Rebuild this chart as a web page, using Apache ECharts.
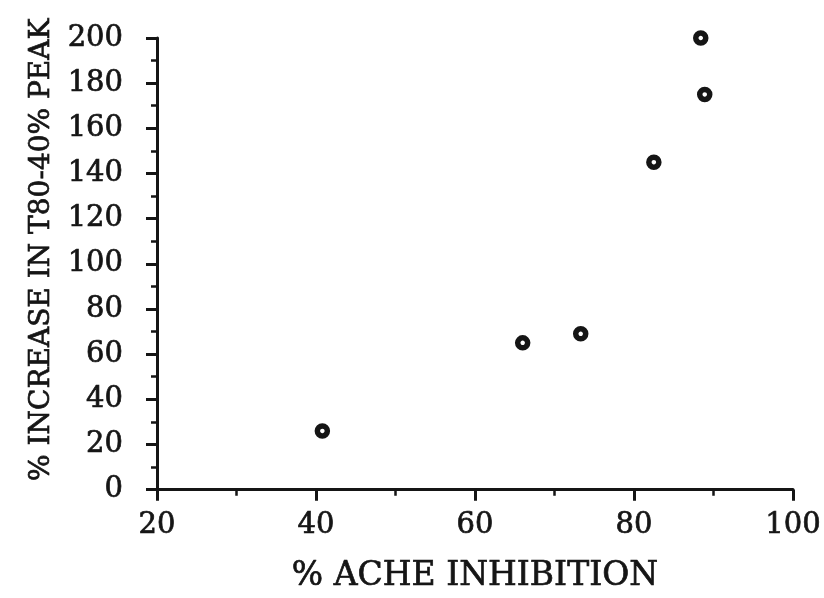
<!DOCTYPE html>
<html>
<head>
<meta charset="utf-8">
<script src="https://cdn.jsdelivr.net/npm/echarts@6/dist/echarts.min.js"></script>
<style>
  html, body { margin: 0; padding: 0; background: #fff; }
  #chart { width: 824px; height: 598px; }
</style>
</head>
<body>
<div id="chart"></div>
<script>
// Acetylcholinesterase inhibition vs. increase in T80-40% peak duration
const acheInhibition = [40.8, 66.0, 73.3, 82.5, 88.4, 88.9];
const peakIncrease = [26, 65, 69, 145, 200, 175];

const xTicks = [20, 40, 60, 80, 100];
const yTicks = [0, 20, 40, 60, 80, 100, 120, 140, 160, 180, 200];

const xTitle = '% ACHE INHIBITION';
const yTitle = '% INCREASE IN T80-40% PEAK';

const ink = '#151515';
const serif = '"DejaVu Serif", "Liberation Serif", serif';
// thin outline of the same colour gives the heavier printed look
const heavy = { color: ink, textBorderColor: ink, textBorderWidth: 0.7 };

const chart = echarts.init(document.getElementById('chart'), null, { renderer: 'canvas' });

chart.setOption({
  backgroundColor: '#ffffff',
  animation: false,
  grid: { left: 157, right: 30, top: 38, bottom: 108, containLabel: false },
  xAxis: {
    type: 'value',
    min: xTicks[0],
    max: xTicks[xTicks.length - 1],
    interval: xTicks[1] - xTicks[0],
    name: xTitle,
    nameLocation: 'middle',
    nameGap: 70,
    nameTextStyle: Object.assign({ fontFamily: serif, fontSize: 33 }, heavy),
    axisLine: { show: true, onZero: false, lineStyle: { color: ink, width: 3 } },
    axisTick: { show: true, inside: false, length: 11, lineStyle: { color: ink, width: 3 } },
    minorTick: { show: true, splitNumber: 2, length: 6, lineStyle: { color: ink, width: 2.5 } },
    axisLabel: Object.assign({ margin: 21, fontFamily: serif, fontSize: 29 }, heavy),
    splitLine: { show: false },
    minorSplitLine: { show: false }
  },
  yAxis: {
    type: 'value',
    min: yTicks[0],
    max: yTicks[yTicks.length - 1],
    interval: yTicks[1] - yTicks[0],
    name: yTitle,
    nameLocation: 'middle',
    nameGap: 100,
    nameRotate: 90,
    nameTextStyle: Object.assign({ fontFamily: serif, fontSize: 28, padding: [0, 0, 0, 28] }, heavy),
    axisLine: { show: true, onZero: false, lineStyle: { color: ink, width: 3 } },
    axisTick: { show: true, inside: false, length: 11, lineStyle: { color: ink, width: 3 } },
    minorTick: { show: true, splitNumber: 2, length: 6, lineStyle: { color: ink, width: 2.5 } },
    axisLabel: Object.assign({ margin: 34, fontFamily: serif, fontSize: 29 }, heavy),
    splitLine: { show: false },
    minorSplitLine: { show: false }
  },
  series: [{
    type: 'scatter',
    data: acheInhibition.map((x, i) => [x, peakIncrease[i]]),
    symbol: 'circle',
    symbolSize: 10,
    itemStyle: { color: '#ffffff', borderColor: ink, borderWidth: 5.5, opacity: 1 },
    emphasis: { disabled: true }
  }]
});
</script>
</body>
</html>
